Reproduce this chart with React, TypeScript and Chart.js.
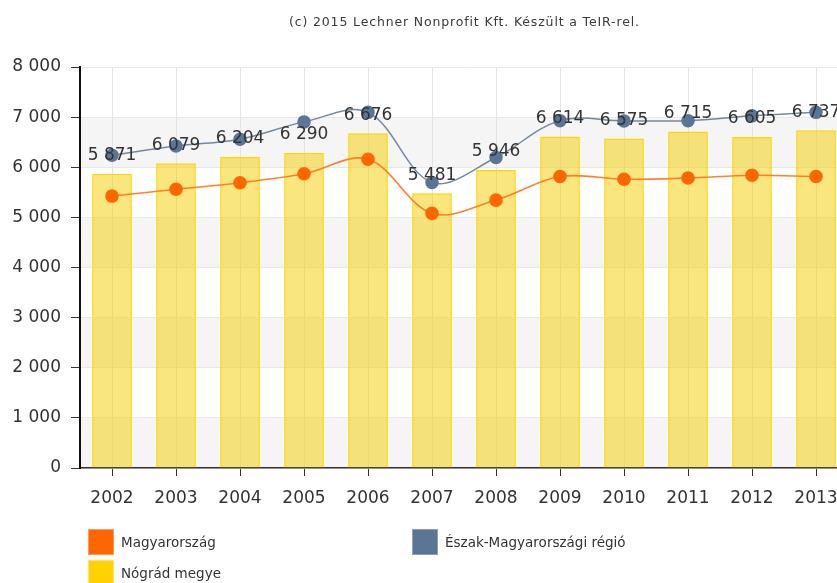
import React, { useEffect, useRef } from "react";
import { Chart, registerables } from "chart.js";

Chart.register(...registerables);

const years = ["2002", "2003", "2004", "2005", "2006", "2007", "2008", "2009", "2010", "2011", "2012", "2013"];
const nogradValues = [5871, 6079, 6204, 6290, 6676, 5481, 5946, 6614, 6575, 6715, 6605, 6737];
const regioValues = [6240, 6425, 6560, 6905, 7095, 5695, 6195, 6930, 6925, 6930, 7025, 7095];
const magyarValues = [5425, 5560, 5690, 5870, 6160, 5080, 5345, 5815, 5760, 5785, 5840, 5815];
const seriesNames = ["Magyarország", "Észak-Magyarországi régió", "Nógrád megye"];
const titleText = "(c) 2015 Lechner Nonprofit Kft. Készült a TeIR-rel.";

const FONT = "'DejaVu Sans', Verdana, sans-serif";
const CANVAS_W = 860;
const CANVAS_H = 583;

const fmt = (v: number) => {
  const s = Math.round(v).toString();
  return s.replace(/\B(?=(\d{3})+(?!\d))/g, " ");
};

const bandsPlugin = {
  id: "bands",
  beforeDraw(chart: any) {
    const { ctx, chartArea, scales } = chart;
    const y = scales.y;
    ctx.save();
    ctx.fillStyle = "#f5f5f5";
    for (let v = 0; v < 8000; v += 2000) {
      const top = y.getPixelForValue(v + 1000);
      const bottom = y.getPixelForValue(v);
      ctx.fillRect(chartArea.left, top, chartArea.right - chartArea.left, bottom - top);
    }
    ctx.restore();
  },
};

const labelsPlugin = {
  id: "barLabels",
  afterDatasetsDraw(chart: any) {
    const { ctx } = chart;
    const idx = chart.data.datasets.findIndex((d: any) => d.type === "bar");
    const meta = chart.getDatasetMeta(idx);
    ctx.save();
    ctx.font = `17px ${FONT}`;
    ctx.fillStyle = "#333";
    ctx.textAlign = "center";
    ctx.textBaseline = "middle";
    meta.data.forEach((el: any, i: number) => {
      const v = chart.data.datasets[idx].data[i];
      ctx.fillText(fmt(v), el.x, el.y - 18);
    });
    ctx.restore();
  },
};

export default function App() {
  const ref = useRef<HTMLCanvasElement>(null);
  useEffect(() => {
    if (!ref.current) return;
    const chart = new Chart(ref.current, {
      type: "bar",
      data: {
        labels: years,
        datasets: [
          {
            type: "line",
            label: seriesNames[1],
            data: regioValues,
            borderColor: "rgba(91,117,149,0.85)",
            backgroundColor: "#5b7595",
            pointBackgroundColor: "#5b7595",
            pointBorderColor: "#5b7595",
            borderWidth: 1.5,
            pointRadius: 6,
            tension: 0.35,
            order: 1,
          },
          {
            type: "line",
            label: seriesNames[0],
            data: magyarValues,
            borderColor: "rgba(255,115,25,0.9)",
            backgroundColor: "#ff6600",
            pointBackgroundColor: "#ff6600",
            pointBorderColor: "#ff6600",
            borderWidth: 1.6,
            pointRadius: 6,
            tension: 0.35,
            order: 2,
          },
          {
            type: "bar",
            label: seriesNames[2],
            data: nogradValues,
            backgroundColor: "rgba(245,205,0,0.5)",
            borderColor: "#ffd500",
            borderWidth: 1.5,
            barPercentage: 0.62,
            categoryPercentage: 1,
            order: 3,
          },
        ] as any,
      },
      options: {
        responsive: false,
        animation: false,
        layout: { padding: { top: 67, right: CANVAS_W - 848, bottom: 75, left: 0 } },
        plugins: { legend: { display: false }, tooltip: { enabled: false }, title: { display: false } },
        scales: {
          x: {
            offset: true,
            grid: { offset: false, color: "#e3e3e3", tickColor: "#333", tickLength: 8, lineWidth: 1 },
            border: { color: "#333", width: 1.5 },
            ticks: { color: "#333", font: { family: FONT, size: 17 }, padding: 12, maxRotation: 0, autoSkip: false },
            afterFit(scale: any) {
              scale.height = 40;
            },
          },
          y: {
            min: 0,
            max: 8000,
            ticks: { stepSize: 1000, color: "#333", font: { family: FONT, size: 17 }, padding: 10, callback: (v: any) => fmt(Number(v)) },
            grid: { color: "#e8e8e8", tickColor: "#333", tickLength: 9 },
            border: { color: "#111", width: 2 },
            afterFit(scale: any) {
              scale.width = 80;
            },
          },
        },
      },
      plugins: [bandsPlugin, labelsPlugin],
    });
    return () => chart.destroy();
  }, []);

  const legendItem = (left: number, top: number, color: string, border: string, text: string) => (
    <div style={{ position: "absolute", left, top, display: "flex", alignItems: "center" }}>
      <div style={{ width: 24, height: 24, background: color, border: `1px solid ${border}` }} />
      <span style={{ marginLeft: 7, fontFamily: FONT, fontSize: 13.5, color: "#333" }}>{text}</span>
    </div>
  );

  return (
    <div style={{ position: "fixed", left: 0, top: 0, width: 837, height: 583, overflow: "hidden", background: "#fff" }}>
      <canvas ref={ref} width={CANVAS_W} height={CANVAS_H} style={{ position: "absolute", left: 0, top: 0 }} />
      <div style={{ position: "absolute", left: 289, top: 14, whiteSpace: "nowrap", fontFamily: FONT, fontSize: 12.5, letterSpacing: 0.85, color: "#3a3a3a" }}>
        {titleText}
      </div>
      {legendItem(88, 529, "#ff6600", "#ff9a5c", seriesNames[0])}
      {legendItem(412, 529, "#5b7595", "#8da0b8", seriesNames[1])}
      {legendItem(88, 560, "#ffd200", "#ffe36a", seriesNames[2])}
    </div>
  );
}
